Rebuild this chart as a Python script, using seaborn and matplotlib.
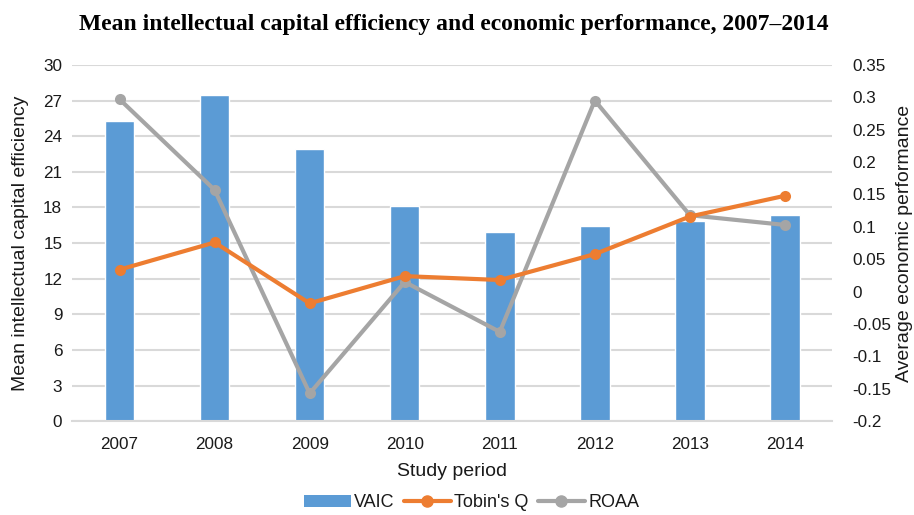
import numpy as np
import pandas as pd
import matplotlib
matplotlib.use('Agg')
import matplotlib.pyplot as plt
import seaborn as sns
from matplotlib.lines import Line2D
from matplotlib.patches import Patch

# ─── Data ─────────────────────────────────────────────────────────────────────
years     = ['2007', '2008', '2009', '2010', '2011', '2012', '2013', '2014']
vaic      = [25.3, 27.5, 22.9, 18.1, 15.9, 16.4, 16.9, 17.4]
tobins_q  = [0.034, 0.076, -0.018, 0.024, 0.018, 0.058, 0.116, 0.148]
roaa      = [0.297, 0.157, -0.157, 0.015, -0.062, 0.295, 0.118, 0.103]

left_ticks  = [0, 3, 6, 9, 12, 15, 18, 21, 24, 27, 30]
right_ticks = [-0.2, -0.15, -0.1, -0.05, 0, 0.05, 0.1, 0.15, 0.2, 0.25, 0.3, 0.35]

BLUE   = '#5B9BD5'
ORANGE = '#ED7D31'
GRAY   = '#A5A5A5'
GRID   = '#D9D9D9'
TEXT   = '#1a1a1a'

df = pd.DataFrame({'year': years, 'VAIC': vaic, 'Tobin': tobins_q, 'ROAA': roaa})
df['pos'] = np.arange(len(years))

sns.set_style('white')
plt.rcParams['font.family'] = ['Liberation Sans', 'DejaVu Sans']

fig = plt.figure(figsize=(9.14, 5.15), dpi=100)
ax = fig.add_axes([0.0788, 0.182, 0.832, 0.692])

# ─── Bars (left axis) ─────────────────────────────────────────────────────────
sns.barplot(data=df, x='year', y='VAIC', color=BLUE, width=0.31,
            saturation=1, ax=ax, zorder=2)
ax.set_ylim(0, 30)
ax.set_xlim(-0.5, len(years) - 0.5)
ax.set_yticks(left_ticks)
ax.set_yticklabels([str(t) for t in left_ticks])
ax.yaxis.grid(True, color=GRID, linewidth=1.5, zorder=0)
ax.set_axisbelow(True)
ax.tick_params(axis='y', length=0, labelsize=12.3, colors=TEXT, pad=7)
ax.tick_params(axis='x', length=0, labelsize=12.3, colors=TEXT, pad=11)
ax.set_xlabel('Study period', fontsize=14, color=TEXT, labelpad=8)
ax.set_ylabel('Mean intellectual capital efficiency', fontsize=14,
              color=TEXT, labelpad=10)
for s in ['top', 'right', 'left']:
    ax.spines[s].set_visible(False)
ax.spines['bottom'].set_color(GRID)
ax.spines['bottom'].set_linewidth(1.5)

# ─── Lines (right axis) ───────────────────────────────────────────────────────
ax2 = ax.twinx()
sns.lineplot(data=df, x='pos', y='Tobin', color=ORANGE, linewidth=3,
             marker='o', markersize=8, markeredgewidth=0, ax=ax2, zorder=4)
sns.lineplot(data=df, x='pos', y='ROAA', color=GRAY, linewidth=3,
             marker='o', markersize=8, markeredgewidth=0, ax=ax2, zorder=3)
ax2.set_ylim(-0.2, 0.35)
ax2.set_xlim(-0.5, len(years) - 0.5)
ax2.set_yticks(right_ticks)
ax2.set_yticklabels([f'{t:g}' for t in right_ticks])
ax2.tick_params(axis='y', length=0, labelsize=12.3, colors=TEXT, pad=14)
ax2.set_ylabel('Average economic performance', fontsize=14, color=TEXT,
               labelpad=4)
ax2.grid(False)
for s in ax2.spines.values():
    s.set_visible(False)

# ─── Title & legend ───────────────────────────────────────────────────────────
fig.text(0.496, 0.953, 'Mean intellectual capital efficiency and economic performance, 2007\u20132014',
         ha='center', va='center', fontsize=17, fontweight='bold',
         family=['Liberation Serif', 'DejaVu Serif'], color='black')

handles = [
    Patch(facecolor=BLUE, edgecolor='none', label='VAIC'),
    Line2D([], [], color=ORANGE, linewidth=3, marker='o', markersize=8, label="Tobin's Q"),
    Line2D([], [], color=GRAY, linewidth=3, marker='o', markersize=8, label='ROAA'),
]
fig.legend(handles=handles, loc='center', bbox_to_anchor=(0.516, 0.024),
           ncol=3, frameon=False, fontsize=13, handlelength=2.6,
           handletextpad=0.2, columnspacing=0.5, labelcolor=TEXT,
           borderpad=0.1)

fig.savefig('out.png', dpi=100)
